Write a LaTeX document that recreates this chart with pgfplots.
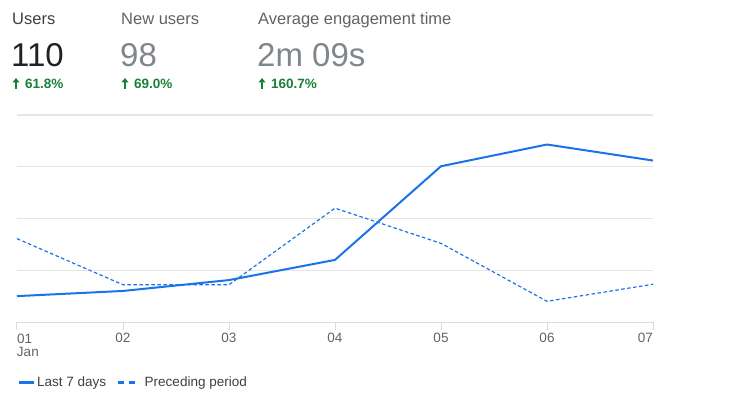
\documentclass[border=0pt]{standalone}
\usepackage{pgfplots}
\pgfplotsset{compat=1.18}
\usetikzlibrary{arrows.meta}
\usepackage{fontspec}
\setmainfont{Liberation Sans}
\definecolor{gblue}{HTML}{1A73E8}
\definecolor{ggreen}{HTML}{188038}
\definecolor{gdark}{HTML}{202124}
\definecolor{gtext}{HTML}{3C4043}
\definecolor{ggray}{HTML}{5F6368}
\definecolor{glight}{HTML}{80868B}
\definecolor{ggrid}{HTML}{E6E6E6}
\definecolor{gaxis}{HTML}{DADCE0}
\begin{document}
\begin{tikzpicture}
\path[use as bounding box] (0,0) rectangle (750pt,397pt);
\begin{axis}[
  at={(17pt,75pt)}, anchor=south west,
  scale only axis, width=636pt, height=207pt,
  xmin=0, xmax=6, ymin=0, ymax=40,
  clip=false,
  axis x line*=bottom, axis y line*=left,
  x axis line style={gaxis, line width=1pt, -},
  y axis line style={draw=none},
  xtick={0,1,2,3,4,5,6},
  xticklabels={{\rlap{\begin{tabular}[t]{@{}l@{}}01\\[-2pt]Jan\end{tabular}}},02,03,04,05,06,{\llap{07}}},
  tick align=outside, major tick length=8pt,
  xtick style={gaxis, line width=1pt},
  ytick style={draw=none},
  xticklabel style={font=\fontsize{13.5}{15}\selectfont, text=ggray, inner sep=0pt, yshift=-3pt},
  ytick={10,20,30},
  ymajorgrids, grid style={ggrid, line width=1pt},
  yticklabels={},
  legend columns=2,
  legend style={draw=none, fill=none, at={(axis description cs:0,-0.29)}, anchor=west, inner sep=0pt,
    font=\fontsize{13.5}{16}\selectfont, text=gtext,
    /tikz/every even column/.append style={column sep=8pt}},
  legend cell align=left,
]
\draw[ggrid, line width=2pt] (axis cs:0,40) -- (axis cs:6,40);
\addplot[gblue, line width=2pt, line join=round,
  legend image code/.code={\draw[gblue, solid, line width=3pt] (0pt,0pt) -- (15pt,0pt);}]
  coordinates {(0,5) (1,6) (2,8.1) (3,12) (4,30.1) (5,34.3) (6,31.2)};
\addlegendentry{Last 7 days}
\addplot[gblue, line width=1.2pt, dash pattern=on 3.5pt off 2.5pt,
  legend image code/.code={
    \draw[gblue, solid, line width=3pt] (0pt,0pt) -- (6pt,0pt);
    \draw[gblue, solid, line width=3pt] (11pt,0pt) -- (17pt,0pt);
    \path[draw=none] (0pt,0pt) -- (25pt,0pt);}]
  coordinates {(0,16.1) (1,7.2) (2,7.2) (3,22) (4,15.2) (5,4) (6,7.3)};
\addlegendentry{Preceding period}
\end{axis}
\node[anchor=base west, inner sep=0pt, text=gtext, font=\fontsize{16.5}{18}\selectfont] at (12pt,372pt) {Users};
\node[anchor=base west, inner sep=0pt, text=ggray, font=\fontsize{16.5}{18}\selectfont] at (121pt,372pt) {New users};
\node[anchor=base west, inner sep=0pt, text=ggray, font=\fontsize{16.5}{18}\selectfont] at (258pt,372pt) {Average engagement time};
\node[anchor=base west, inner sep=0pt, text=gdark, font=\fontsize{33}{36}\selectfont] at (11pt,330pt) {110};
\node[anchor=base west, inner sep=0pt, text=glight, font=\fontsize{33}{36}\selectfont] at (120pt,330pt) {98};
\node[anchor=base west, inner sep=0pt, text=glight, font=\fontsize{33}{36}\selectfont] at (257pt,330pt) {2m 09s};
\foreach \x in {16,125,262} {
  \draw[ggreen, line width=2pt, -{Triangle[width=7pt,length=4.5pt]}] (\x pt,308pt) -- (\x pt,319pt);
}
\node[anchor=base west, inner sep=0pt, text=ggreen, font=\bfseries\fontsize{13.5}{15}\selectfont] at (25pt,308pt) {61.8\%};
\node[anchor=base west, inner sep=0pt, text=ggreen, font=\bfseries\fontsize{13.5}{15}\selectfont] at (134pt,308pt) {69.0\%};
\node[anchor=base west, inner sep=0pt, text=ggreen, font=\bfseries\fontsize{13.5}{15}\selectfont] at (271pt,308pt) {160.7\%};
\end{tikzpicture}
\end{document}
